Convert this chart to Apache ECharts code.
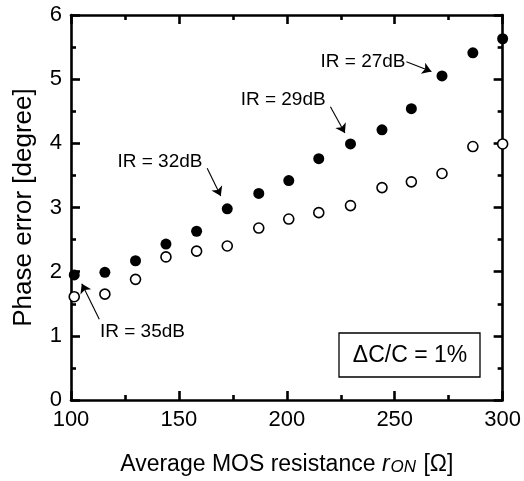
<!DOCTYPE html>
<html>
<head>
<meta charset="utf-8">
<script src="https://cdn.jsdelivr.net/npm/echarts@6/dist/echarts.min.js"></script>
<style>html,body{margin:0;padding:0;background:#fff;}#c{width:524px;height:481px;}</style>
</head>
<body>
<div id="c"></div>
<script>
// x values (Average MOS resistance r_ON, Ω)
const rOn = [101.5, 115.7, 129.9, 144, 158.2, 172.4, 187, 200.9, 214.8, 229.5, 244.1, 257.7, 271.9, 286.2, 300];
// filled circles (phase error, degree)
const filledErr = [1.95, 1.99, 2.17, 2.43, 2.63, 2.98, 3.22, 3.42, 3.76, 3.99, 4.21, 4.54, 5.05, 5.41, 5.63];
// open circles (phase error, degree)
const openErr = [1.61, 1.65, 1.88, 2.23, 2.32, 2.40, 2.68, 2.82, 2.92, 3.03, 3.31, 3.40, 3.53, 3.95, 3.99];
// annotation texts and their anchor positions (data space)
const noteText = ['IR = 27dB', 'IR = 29dB', 'IR = 32dB', 'IR = 35dB'];
const noteX = [235.3, 198.3, 141.2, 133.1];
const noteY = [5.27, 4.675, 3.71, 1.06];
// annotation arrows (data space)
const arrowFromX = [255.4, 220.2, 163.1, 113.1];
const arrowFromY = [5.27, 4.57, 3.61, 1.26];
const arrowToX = [267.0, 226.9, 169.4, 105.0];
const arrowToY = [5.12, 4.16, 3.18, 1.81];
// axis ranges / ticks
const xMin = 100, xMax = 300, xStep = 50;
const yMin = 0, yMax = 6, yStep = 1;
const boxText = '\u0394C/C = 1%';

const FONT = '"Liberation Sans", Arial, Helvetica, sans-serif';
const lineW = 2.6;

function axisCommon(showLabels) {
  return {
    axisLine: { show: true, onZero: false, lineStyle: { color: '#000', width: lineW } },
    axisTick: { show: true, inside: true, length: 9, lineStyle: { color: '#000', width: lineW } },
    minorTick: { show: true, splitNumber: 2, length: 5, lineStyle: { color: '#000', width: lineW } },
    splitLine: { show: false },
    minorSplitLine: { show: false },
    axisLabel: { show: showLabels, color: '#000', fontSize: 22, fontFamily: FONT, margin: 9 }
  };
}

const chart = echarts.init(document.getElementById('c'), null, { renderer: 'canvas' });
const data1 = rOn.map((x, i) => [x, filledErr[i]]);
const data2 = rOn.map((x, i) => [x, openErr[i]]);
const notes = noteText.map((t, i) => ({ name: t, value: [noteX[i], noteY[i]] }));
const arrows = arrowFromX.map((x, i) => [
  { coord: [x, arrowFromY[i]] },
  { coord: [arrowToX[i], arrowToY[i]] }
]);

chart.setOption({
  animation: false,
  backgroundColor: '#fff',
  grid: { left: 71, right: 21, top: 15, bottom: 81, containLabel: false },
  xAxis: [
    Object.assign({
      type: 'value', min: xMin, max: xMax, interval: xStep, position: 'bottom',
      name: 'Average MOS resistance {i|r}{s|ON} [\u03A9]',
      nameLocation: 'middle', nameGap: 53,
      nameTextStyle: {
        color: '#000', fontSize: 23, fontFamily: FONT,
        rich: {
          i: { fontSize: 23, fontStyle: 'italic', fontFamily: FONT, color: '#000', verticalAlign: 'bottom' },
          s: { fontSize: 17, fontStyle: 'italic', fontFamily: FONT, color: '#000', verticalAlign: 'bottom', lineHeight: 17, padding: [10, 1, 0, 1] }
        }
      }
    }, axisCommon(true)),
    Object.assign({ type: 'value', min: xMin, max: xMax, interval: xStep, position: 'top' }, axisCommon(false))
  ],
  yAxis: [
    Object.assign({
      type: 'value', min: yMin, max: yMax, interval: yStep, position: 'left',
      name: 'Phase error [degree]', nameLocation: 'middle', nameGap: 34, nameRotate: 90,
      nameTextStyle: { color: '#000', fontSize: 26, fontFamily: FONT }
    }, axisCommon(true)),
    Object.assign({ type: 'value', min: yMin, max: yMax, interval: yStep, position: 'right' }, axisCommon(false))
  ],
  series: [
    {
      type: 'scatter', data: data1, symbol: 'circle', symbolSize: 11, clip: false,
      itemStyle: { color: '#000', borderColor: '#000', borderWidth: 0, opacity: 1 }, z: 3
    },
    {
      type: 'scatter', data: data2, symbol: 'circle', symbolSize: 10, clip: false,
      itemStyle: { color: '#fff', borderColor: '#000', borderWidth: 1.6, opacity: 1 }, z: 3
    },
    {
      type: 'scatter', data: notes, symbolSize: 0, silent: true, z: 4,
      itemStyle: { opacity: 1, color: '#000' },
      label: { show: true, position: 'inside', formatter: '{b}', color: '#000', fontSize: 19, fontFamily: FONT, textBorderWidth: 0 },
      markLine: {
        silent: true, animation: false,
        symbol: ['none', 'arrow'], symbolSize: 9,
        lineStyle: { color: '#000', width: 1.1, type: 'solid', opacity: 1 },
        itemStyle: { color: '#000' },
        label: { show: false },
        emphasis: { disabled: true },
        data: arrows
      }
    }
  ],
  graphic: [
    {
      type: 'rect', shape: { x: 339, y: 333, width: 141, height: 44 },
      style: { fill: '#fff', stroke: '#000', lineWidth: 1.3 }, z: 10
    },
    {
      type: 'text', x: 410, y: 356,
      style: { text: boxText, fill: '#000', font: '23px ' + FONT, textAlign: 'center', textVerticalAlign: 'middle' }, z: 11
    }
  ]
});
</script>
</body>
</html>
